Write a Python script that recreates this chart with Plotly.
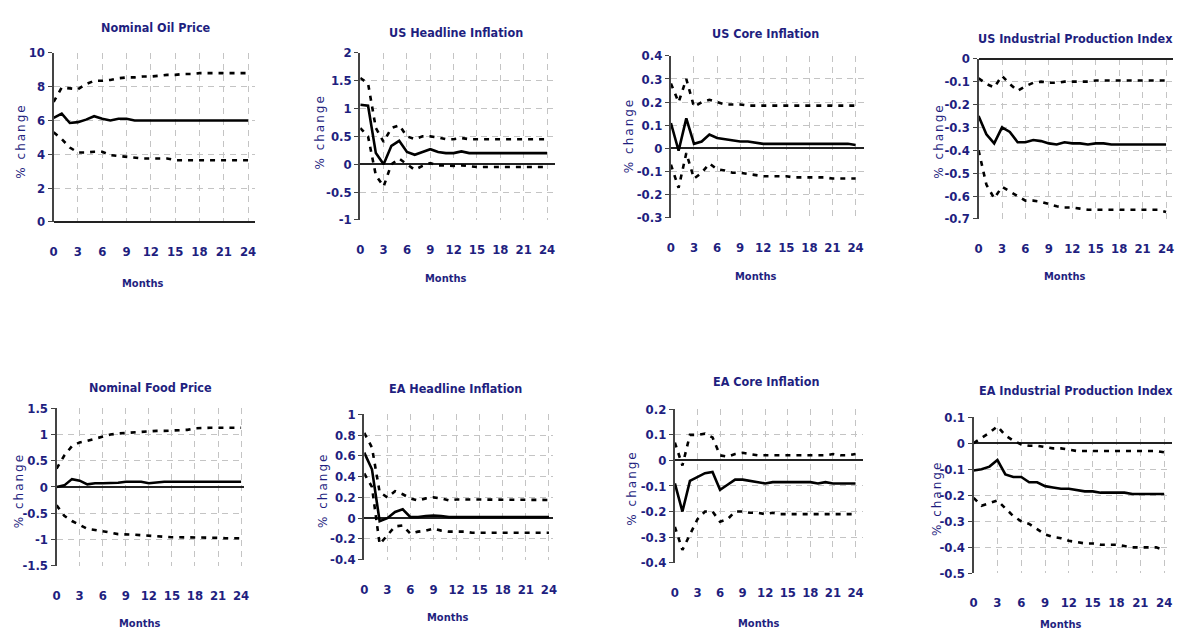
import plotly.graph_objects as go

months = list(range(25))
month_ticks = [0, 3, 6, 9, 12, 15, 18, 21, 24]

titles = ["Nominal Oil Price", "US Headline Inflation", "US Core Inflation", "US Industrial Production Index",
          "Nominal Food Price", "EA Headline Inflation", "EA Core Inflation", "EA Industrial Production Index"]

oil_mid = [6.15, 6.4, 5.85, 5.9, 6.05, 6.25, 6.1, 6.0, 6.1, 6.1, 6.0, 6.0, 6.0, 6.0, 6.0, 6.0, 6.0, 6.0, 6.0, 6.0, 6.0, 6.0, 6.0, 6.0, 6.0]
oil_up = [7.1, 7.95, 7.9, 7.85, 8.15, 8.35, 8.35, 8.4, 8.5, 8.55, 8.55, 8.6, 8.6, 8.65, 8.7, 8.7, 8.75, 8.75, 8.8, 8.8, 8.8, 8.8, 8.8, 8.8, 8.8]
oil_lo = [5.3, 4.9, 4.4, 4.1, 4.1, 4.15, 4.15, 3.95, 3.9, 3.85, 3.8, 3.75, 3.75, 3.75, 3.75, 3.65, 3.65, 3.65, 3.65, 3.65, 3.65, 3.65, 3.65, 3.65, 3.65]

ush_mid = [1.07, 1.05, 0.2, 0.0, 0.33, 0.42, 0.22, 0.17, 0.22, 0.27, 0.22, 0.2, 0.2, 0.23, 0.2, 0.2, 0.2, 0.2, 0.2, 0.2, 0.2, 0.2, 0.2, 0.2, 0.2]
ush_up = [1.55, 1.45, 0.65, 0.4, 0.65, 0.7, 0.5, 0.45, 0.5, 0.5, 0.48, 0.45, 0.45, 0.47, 0.45, 0.45, 0.45, 0.45, 0.45, 0.45, 0.45, 0.45, 0.45, 0.45, 0.45]
ush_lo = [0.65, 0.5, -0.2, -0.4, 0.0, 0.1, 0.0, -0.1, -0.03, 0.02, -0.02, -0.03, -0.03, -0.02, -0.04, -0.05, -0.05, -0.05, -0.05, -0.05, -0.05, -0.05, -0.05, -0.05, -0.05]

usc_mid = [0.11, -0.01, 0.13, 0.02, 0.03, 0.06, 0.045, 0.04, 0.032, 0.03, 0.03, 0.025, 0.02, 0.02, 0.02, 0.02, 0.02, 0.02, 0.02, 0.02, 0.02, 0.02, 0.02, 0.02, 0.015]
usc_up = [0.28, 0.2, 0.3, 0.18, 0.2, 0.21, 0.2, 0.19, 0.19, 0.19, 0.185, 0.185, 0.185, 0.185, 0.185, 0.185, 0.185, 0.185, 0.185, 0.185, 0.185, 0.185, 0.185, 0.185, 0.185]
usc_lo = [-0.07, -0.17, -0.02, -0.13, -0.105, -0.065, -0.09, -0.095, -0.105, -0.105, -0.11, -0.115, -0.12, -0.12, -0.12, -0.12, -0.125, -0.125, -0.125, -0.125, -0.125, -0.13, -0.13, -0.13, -0.13]

usip_mid = [-0.25, -0.33, -0.37, -0.30, -0.32, -0.365, -0.365, -0.355, -0.36, -0.37, -0.375, -0.365, -0.37, -0.37, -0.375, -0.37, -0.37, -0.375, -0.375, -0.375, -0.375, -0.375, -0.375, -0.375, -0.375]
usip_up = [-0.085, -0.11, -0.125, -0.075, -0.11, -0.14, -0.12, -0.105, -0.1, -0.105, -0.105, -0.1, -0.1, -0.1, -0.1, -0.095, -0.095, -0.095, -0.095, -0.095, -0.095, -0.095, -0.095, -0.095, -0.095]
usip_lo = [-0.4, -0.55, -0.61, -0.56, -0.58, -0.6, -0.62, -0.62, -0.625, -0.635, -0.645, -0.65, -0.65, -0.655, -0.66, -0.66, -0.66, -0.66, -0.66, -0.66, -0.66, -0.66, -0.66, -0.66, -0.67]

food_mid = [0.0, 0.03, 0.15, 0.12, 0.05, 0.07, 0.07, 0.07, 0.08, 0.1, 0.1, 0.1, 0.07, 0.09, 0.1, 0.1, 0.1, 0.1, 0.1, 0.1, 0.1, 0.1, 0.1, 0.1, 0.1]
food_up = [0.35, 0.6, 0.78, 0.85, 0.88, 0.92, 0.95, 1.0, 1.02, 1.03, 1.05, 1.06, 1.07, 1.07, 1.07, 1.08, 1.09, 1.09, 1.12, 1.13, 1.13, 1.13, 1.13, 1.13, 1.13]
food_lo = [-0.35, -0.55, -0.65, -0.72, -0.8, -0.82, -0.84, -0.87, -0.9, -0.9, -0.91, -0.92, -0.93, -0.95, -0.96, -0.96, -0.96, -0.96, -0.96, -0.96, -0.96, -0.97, -0.98, -0.98, -0.98]

eah_mid = [0.63, 0.47, -0.03, 0.0, 0.06, 0.085, 0.01, 0.01, 0.02, 0.025, 0.02, 0.01, 0.01, 0.01, 0.01, 0.01, 0.01, 0.01, 0.01, 0.01, 0.01, 0.01, 0.01, 0.01, 0.01]
eah_up = [0.82, 0.68, 0.25, 0.2, 0.26, 0.23, 0.19, 0.17, 0.19, 0.2, 0.19, 0.17, 0.18, 0.18, 0.18, 0.175, 0.175, 0.175, 0.175, 0.175, 0.175, 0.175, 0.175, 0.175, 0.175]
eah_lo = [0.43, 0.3, -0.25, -0.17, -0.08, -0.07, -0.15, -0.13, -0.12, -0.1, -0.12, -0.13, -0.13, -0.13, -0.14, -0.14, -0.14, -0.14, -0.14, -0.14, -0.14, -0.14, -0.14, -0.14, -0.14]

eac_mid = [-0.09, -0.2, -0.08, -0.065, -0.05, -0.045, -0.115, -0.095, -0.075, -0.075, -0.08, -0.085, -0.09, -0.085, -0.085, -0.085, -0.085, -0.085, -0.085, -0.09, -0.085, -0.09, -0.09, -0.09, -0.09]
eac_up = [0.07, -0.02, 0.1, 0.1, 0.105, 0.09, 0.02, 0.015, 0.025, 0.03, 0.025, 0.02, 0.02, 0.02, 0.02, 0.02, 0.02, 0.02, 0.02, 0.02, 0.02, 0.025, 0.02, 0.02, 0.025]
eac_lo = [-0.26, -0.35, -0.29, -0.23, -0.2, -0.2, -0.24, -0.23, -0.2, -0.2, -0.205, -0.205, -0.21, -0.205, -0.21, -0.21, -0.21, -0.21, -0.21, -0.21, -0.21, -0.21, -0.21, -0.21, -0.21]

eaip_mid = [-0.105, -0.1, -0.09, -0.065, -0.12, -0.13, -0.13, -0.15, -0.15, -0.165, -0.17, -0.175, -0.175, -0.18, -0.185, -0.185, -0.19, -0.19, -0.19, -0.19, -0.195, -0.195, -0.195, -0.195, -0.195]
eaip_up = [0.0, 0.02, 0.04, 0.065, 0.03, 0.01, -0.005, -0.01, -0.01, -0.015, -0.02, -0.02, -0.025, -0.03, -0.03, -0.03, -0.03, -0.03, -0.03, -0.03, -0.03, -0.03, -0.03, -0.03, -0.035]
eaip_lo = [-0.21, -0.24, -0.23, -0.22, -0.25, -0.28, -0.3, -0.31, -0.33, -0.35, -0.36, -0.365, -0.375, -0.38, -0.385, -0.385, -0.39, -0.39, -0.39, -0.395, -0.4, -0.4, -0.4, -0.4, -0.41]

y_ticks = [
    [0, 2, 4, 6, 8, 10],
    [-1, -0.5, 0, 0.5, 1, 1.5, 2],
    [-0.3, -0.2, -0.1, 0, 0.1, 0.2, 0.3, 0.4],
    [-0.7, -0.6, -0.5, -0.4, -0.3, -0.2, -0.1, 0],
    [-1.5, -1, -0.5, 0, 0.5, 1, 1.5],
    [-0.4, -0.2, 0, 0.2, 0.4, 0.6, 0.8, 1],
    [-0.4, -0.3, -0.2, -0.1, 0, 0.1, 0.2],
    [-0.5, -0.4, -0.3, -0.2, -0.1, 0, 0.1],
]

series = [
    (oil_mid, oil_up, oil_lo), (ush_mid, ush_up, ush_lo), (usc_mid, usc_up, usc_lo), (usip_mid, usip_up, usip_lo),
    (food_mid, food_up, food_lo), (eah_mid, eah_up, eah_lo), (eac_mid, eac_up, eac_lo), (eaip_mid, eaip_up, eaip_lo),
]

# ---- layout geometry (pixels) ----
W, H = 1189, 639
# plot area: left, right, top, bottom, x-max of range
areas = [
    (50, 253, 47, 220, 24.86), (359, 555, 47, 218, 25.0), (672, 867, 50, 216, 25.15), (982, 1178, 53, 217, 24.9),
    (53, 242, 411, 572, 24.4), (363, 553, 417, 566, 24.5), (676, 866, 412, 569, 25.05), (977, 1177, 420, 580, 25.0),
]
title_pos = [(153, 21), (455, 26), (767, 27), (1080, 32), (148, 390), (455, 391), (768, 384), (1080, 393)]
months_pos = [(140, 283), (445, 278), (757, 276), (1069, 276), (137, 631), (447, 625), (760, 631), (1065, 632)]
ytitle_pos = [(17, 137), (318, 128), (630, 132), (942, 137), (15, 495), (322, 495), (633, 493), (940, 503)]

NAVY = "#1f1f7f"
FONT = "DejaVu Sans Condensed, Liberation Sans Narrow, Arial Narrow, sans-serif"

fig = go.Figure()
annotations = []
layout_axes = {}
for i in range(8):
    n = "" if i == 0 else str(i + 1)
    xa, ya = "x" + n, "y" + n
    mid, up, lo = series[i]
    fig.add_trace(go.Scatter(x=months, y=up, mode="lines", xaxis=xa, yaxis=ya, showlegend=False,
                             line=dict(color="black", width=2.6, dash="5px,6px")))
    fig.add_trace(go.Scatter(x=months, y=lo, mode="lines", xaxis=xa, yaxis=ya, showlegend=False,
                             line=dict(color="black", width=2.6, dash="5px,6px")))
    fig.add_trace(go.Scatter(x=months, y=mid, mode="lines", xaxis=xa, yaxis=ya, showlegend=False,
                             line=dict(color="black", width=2.6)))
    l, r, t, b, xmax = areas[i]
    yt = y_ticks[i]
    layout_axes["xaxis" + n] = dict(
        domain=[l / W, r / W], anchor=ya, range=[0, xmax], tickmode="array", tickvals=month_ticks,
        ticktext=[str(m) for m in month_ticks], showgrid=True, gridcolor="#c4c4c4", griddash="6px,5px",
        gridwidth=1, zeroline=False, showline=False, ticks="", ticklabelstandoff=20,
        tickfont=dict(family=FONT, size=13, color=NAVY, weight="bold"), fixedrange=True)
    layout_axes["yaxis" + n] = dict(
        domain=[1 - b / H, 1 - t / H], anchor=xa, range=[min(yt), max(yt)], tickmode="array", tickvals=yt,
        ticktext=[f"{v:g}" for v in yt], showgrid=True, gridcolor="#c4c4c4", griddash="6px,5px", gridwidth=1,
        zeroline=True, zerolinecolor="#222222", zerolinewidth=1.5, showline=True, linecolor="#444444",
        linewidth=2, ticks="outside", ticklen=4, tickcolor="#444444", tickwidth=1,
        tickfont=dict(family=FONT, size=13, color=NAVY, weight="bold"), fixedrange=True)
    tx, ty = title_pos[i]
    annotations.append(dict(text=titles[i], x=tx / W, y=1 - ty / H, xref="paper", yref="paper", showarrow=False,
                            xanchor="center", yanchor="middle",
                            font=dict(family=FONT, size=12.5, color=NAVY, weight="bold")))
    mx, my = months_pos[i]
    annotations.append(dict(text="Months", x=mx / W, y=1 - my / H, xref="paper", yref="paper", showarrow=False,
                            xanchor="center", yanchor="middle",
                            font=dict(family=FONT, size=11, color=NAVY, weight="bold")))
    px_, py_ = ytitle_pos[i]
    annotations.append(dict(text="<span style='letter-spacing:2px'>% change</span>", x=px_ / W, y=1 - py_ / H,
                            xref="paper", yref="paper", showarrow=False,
                            xanchor="center", yanchor="middle", textangle=-90,
                            font=dict(family="DejaVu Sans, sans-serif", size=12, color=NAVY)))

fig.update_layout(width=W, height=H, autosize=False, margin=dict(l=0, r=0, t=0, b=0),
                  paper_bgcolor="white", plot_bgcolor="white", annotations=annotations, **layout_axes)

fig.write_html("out.html", config={"displayModeBar": False},
               post_script="document.body.style.margin='0px';document.body.style.overflow='hidden';")
